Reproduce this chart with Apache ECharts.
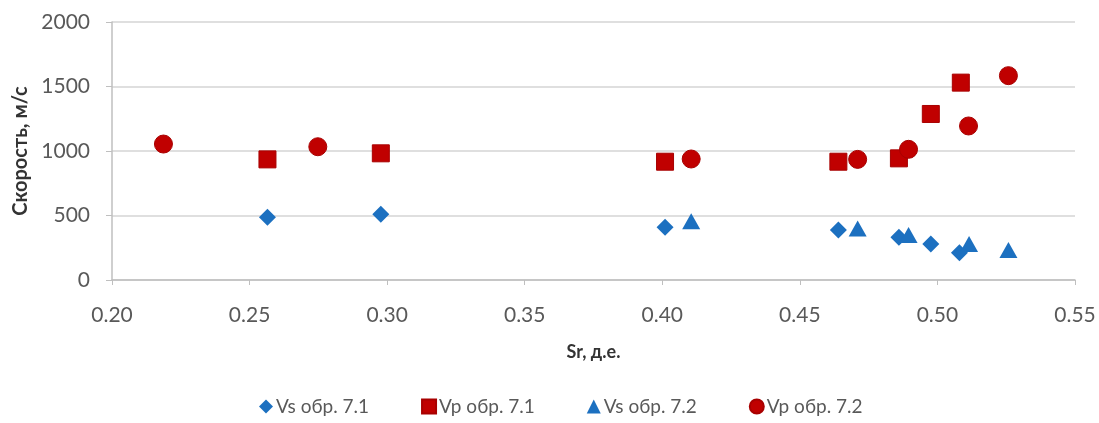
<!DOCTYPE html>
<html>
<head>
<meta charset="utf-8">
<script src="https://cdn.jsdelivr.net/npm/echarts@6/dist/echarts.min.js"></script>
<style>
html,body{margin:0;padding:0;background:#fff;}
#chart{width:1099px;height:423px;}
</style>
</head>
<body>
<div id="chart"></div>
<script>
// Data
const seriesNames = ['Vs обр. 7.1', 'Vp обр. 7.1', 'Vs обр. 7.2', 'Vp обр. 7.2'];
const vs71 = [[0.2565, 486], [0.2977, 509], [0.401, 408], [0.464, 388], [0.486, 331], [0.4976, 279], [0.508, 212]];
const vp71 = [[0.2565, 935], [0.2977, 982], [0.401, 917], [0.464, 917], [0.486, 943], [0.4976, 1287], [0.5085, 1530]];
const vs72 = [[0.4105, 455], [0.471, 400], [0.4895, 349], [0.5115, 279], [0.5258, 233]];
const vp72 = [[0.2187, 1054], [0.2748, 1033], [0.4105, 938], [0.471, 935], [0.4895, 1013], [0.5113, 1194], [0.5258, 1584]];
const xAxisName = 'Sr, д.е.';
const yAxisName = 'Скорость, м/с';

const FONT = 'Lato, "Liberation Sans", sans-serif';
const BLUE = '#1C70C0';
const RED = '#C00000';

const chart = echarts.init(document.getElementById('chart'), null, {renderer: 'canvas'});
chart.setOption({
  animation: false,
  backgroundColor: '#ffffff',
  textStyle: {fontFamily: FONT},
  grid: {left: 112, right: 24, top: 22, bottom: 143},
  legend: {
    bottom: 2,
    left: 254,
    itemGap: 52,
    itemWidth: 14,
    itemHeight: 14,
    textStyle: {fontFamily: FONT, fontSize: 19, color: '#595959', padding: [0, 0, 0, -2]},
    data: [
      {name: seriesNames[0], icon: 'diamond'},
      {name: seriesNames[1], icon: 'rect'},
      {name: seriesNames[2], icon: 'triangle'},
      {name: seriesNames[3], icon: 'circle'}
    ]
  },
  xAxis: {
    type: 'value',
    min: 0.2, max: 0.55, interval: 0.05,
    name: xAxisName,
    nameLocation: 'middle',
    nameGap: 63,
    nameTextStyle: {fontFamily: FONT, fontSize: 18, fontWeight: 'bold', color: '#333333'},
    axisLine: {lineStyle: {color: '#BFBFBF', width: 1.5}},
    axisTick: {show: true, length: 5, lineStyle: {color: '#BFBFBF'}},
    axisLabel: {fontFamily: FONT, fontSize: 21, color: '#595959', margin: 25,
      formatter: v => v.toFixed(2)},
    splitLine: {show: false}
  },
  yAxis: {
    type: 'value',
    min: 0, max: 2000, interval: 500,
    name: yAxisName,
    nameLocation: 'middle',
    nameRotate: 90,
    nameGap: 80,
    nameTextStyle: {fontFamily: FONT, fontSize: 20, fontWeight: 'bold', color: '#333333'},
    axisLine: {show: true, lineStyle: {color: '#BFBFBF', width: 1.5}},
    axisTick: {show: true, length: 6, lineStyle: {color: '#BFBFBF'}},
    axisLabel: {fontFamily: FONT, fontSize: 21, color: '#595959', margin: 22,
      formatter: v => String(v)},
    splitLine: {show: true, lineStyle: {color: '#D4D4D4', width: 1.5}}
  },
  series: [
    {name: seriesNames[0], type: 'scatter', symbol: 'diamond', symbolSize: 17, data: vs71,
      itemStyle: {color: BLUE, opacity: 1}},
    {name: seriesNames[1], type: 'scatter', symbol: 'rect', symbolSize: 17, data: vp71,
      itemStyle: {color: RED, borderColor: '#A80000', borderWidth: 1, opacity: 1}},
    {name: seriesNames[2], type: 'scatter', symbol: 'triangle', symbolSize: [18, 16], data: vs72,
      itemStyle: {color: BLUE, opacity: 1}},
    {name: seriesNames[3], type: 'scatter', symbol: 'circle', symbolSize: 18, data: vp72,
      itemStyle: {color: RED, borderColor: '#A80000', borderWidth: 1, opacity: 1}}
  ]
});
</script>
</body>
</html>
